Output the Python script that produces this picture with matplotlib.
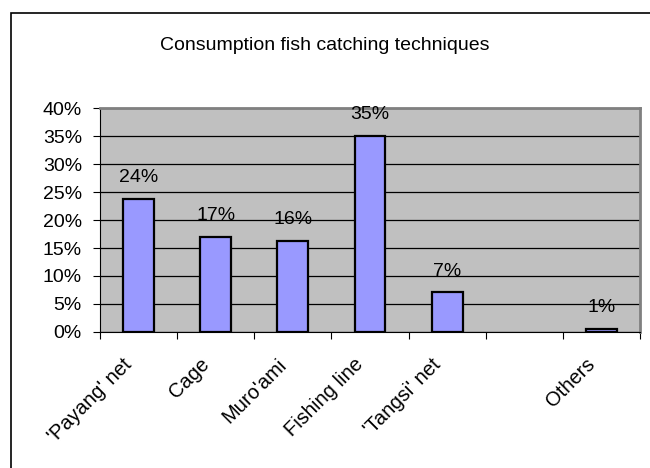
import matplotlib.pyplot as plt
from matplotlib.patches import Rectangle

plt.rcParams['font.family'] = ['Liberation Sans', 'DejaVu Sans']

# data
categories = ["'Payang' net", "Cage", "Muro'ami", "Fishing line", "'Tangsi' net", "", "Others"]
shares = [0.238, 0.170, 0.163, 0.350, 0.071, None, 0.006]
y_ticks = [0.00, 0.05, 0.10, 0.15, 0.20, 0.25, 0.30, 0.35, 0.40]

fig = plt.figure(figsize=(6.5, 4.68), dpi=100)
ax = fig.add_axes([100 / 650, 1 - 332 / 468, 540 / 650, 224 / 468])

# outer chart border (clipped by the image edges on right and bottom)
fig.patches.append(Rectangle((10.5 / 650, -0.1), 1.2, 1.1 - 13.5 / 468,
                             transform=fig.transFigure, fill=False,
                             edgecolor='black', linewidth=1.2))

fig.text(0.5, 1 - 45 / 468, 'Consumption fish catching techniques',
         ha='center', va='center', fontsize=14)

ax.set_facecolor('#C0C0C0')
ax.set_axisbelow(True)
ax.yaxis.grid(True, color='black', linewidth=0.9)

xs = [i for i, v in enumerate(shares) if v is not None]
vals = [v for v in shares if v is not None]
ax.bar(xs, vals, width=0.4, color='#9999FF', edgecolor='black', linewidth=1.6, zorder=3)

for x, v in zip(xs, vals):
    ax.annotate('{:.0%}'.format(v), (x, v), xytext=(0, 12), textcoords='offset points',
                ha='center', va='baseline', fontsize=14)

ax.set_xlim(-0.5, len(categories) - 0.5)
ax.set_ylim(0, 0.40)
ax.set_yticks(y_ticks)
ax.set_yticklabels(['{:.0%}'.format(t) for t in y_ticks], fontsize=14)

# ticks sit on category boundaries, names are placed as rotated text
ax.set_xticks([i - 0.5 for i in range(len(categories) + 1)])
ax.set_xticklabels([])
for i, name in enumerate(categories):
    ax.annotate(name, (i, 0), xycoords=('data', 'axes fraction'),
                xytext=(-11.5, -16.5), textcoords='offset points',
                rotation=45, ha='right', va='top', rotation_mode='anchor',
                fontsize=14.5)
ax.tick_params(axis='x', length=5, direction='out', color='black')
ax.tick_params(axis='y', length=5, direction='out', pad=8)

ax.spines['left'].set_color('black')
ax.spines['bottom'].set_color('black')
for side in ['top', 'right']:
    ax.spines[side].set_color('#808080')
    ax.spines[side].set_linewidth(2)

plt.savefig('out.png', dpi=100)
